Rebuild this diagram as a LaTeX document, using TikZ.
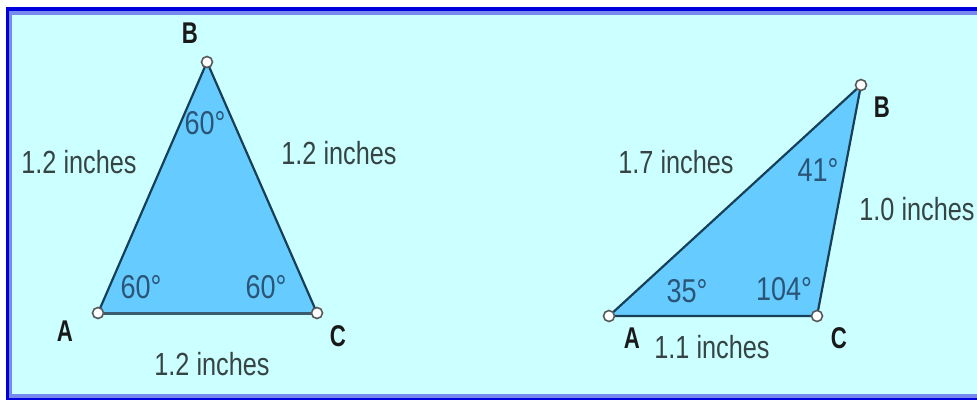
\documentclass[tikz,border=0pt]{standalone}
\usepackage{fontspec}
\setmainfont{Liberation Sans}
\newfontfamily\sidefont[FakeStretch=0.79]{Liberation Sans}
\newfontfamily\angfont[FakeStretch=0.82]{Liberation Sans}
\newfontfamily\vtxfont[FakeStretch=0.74]{Liberation Sans Bold}
\definecolor{bgcyan}{HTML}{CCFFFF}
\definecolor{trifill}{HTML}{66CCFF}
\definecolor{edgecol}{HTML}{173F58}
\definecolor{darkblue}{HTML}{0000DD}
\definecolor{lightblue}{HTML}{7788EE}
\definecolor{sidecol}{HTML}{364444}
\definecolor{angcol}{HTML}{2B5577}
\begin{document}
\begin{tikzpicture}[x=1pt,y=-1pt,
  tri/.style={fill=trifill},
  edge/.style={draw=edgecol,line width=2.2pt,line join=miter},
  vtx/.style={circle,draw=black!65,fill=white,line width=1.6pt,inner sep=0pt,minimum size=11pt},
  sidelbl/.style={text=sidecol,font=\sidefont\fontsize{32}{36}\selectfont,inner sep=0pt},
  anglbl/.style={text=angcol,font=\angfont\fontsize{33}{36}\selectfont,inner sep=0pt},
  vlbl/.style={text=black!90,font=\vtxfont\fontsize{30}{34}\selectfont,inner sep=0pt}]
\useasboundingbox (0,0) rectangle (977,400);
\fill[white] (0,0) rectangle (977,400);
\fill[darkblue] (6,7) rectangle (977,400);
\fill[lightblue] (9,11) rectangle (977,398);
\fill[bgcyan] (12,15) rectangle (977,394);
% left triangle
\coordinate (la) at (98,313);
\coordinate (lb) at (207,62);
\coordinate (lc) at (317,313);
\fill[tri] (la) -- (lb) -- (lc) -- cycle;
\draw[edge] (la) -- (lb) -- (lc);
\draw[edge,line width=3pt,draw=edgecol!85] (la) -- (lc);
\node[vtx] (A1) at (la) {};
\node[vtx] (B1) at (lb) {};
\node[vtx] (C1) at (lc) {};
\node[vlbl] (tA1) at (65,331) {A};
\node[vlbl] (tB1) at (190,33) {B};
\node[vlbl] (tC1) at (338,336) {C};
\node[sidelbl] (sAB1) at (79,162) {1.2 inches};
\node[sidelbl] (sBC1) at (339,153) {1.2 inches};
\node[sidelbl] (sAC1) at (212,364) {1.2 inches};
\node[anglbl] (aB1) at (205,123) {60°};
\node[anglbl] (aA1) at (141,287) {60°};
\node[anglbl] (aC1) at (266,287) {60°};
% right triangle
\coordinate (ra) at (609,316);
\coordinate (rb) at (861,85);
\coordinate (rc) at (817,316);
\fill[tri] (ra) -- (rb) -- (rc) -- cycle;
\draw[edge] (ra) -- (rb) -- (rc) -- cycle;
\node[vtx] (A2) at (ra) {};
\node[vtx] (B2) at (rb) {};
\node[vtx] (C2) at (rc) {};
\node[vlbl] (tA2) at (632,338) {A};
\node[vlbl] (tB2) at (882,107) {B};
\node[vlbl] (tC2) at (839,338) {C};
\node[sidelbl] (sAB2) at (676,162) {1.7 inches};
\node[sidelbl] (sBC2) at (917,209) {1.0 inches};
\node[sidelbl] (sAC2) at (712,347) {1.1 inches};
\node[anglbl] (aB2) at (818,170) {41°};
\node[anglbl] (aA2) at (687,291) {35°};
\node[anglbl] (aC2) at (784,289) {104°};
\end{tikzpicture}
\end{document}
